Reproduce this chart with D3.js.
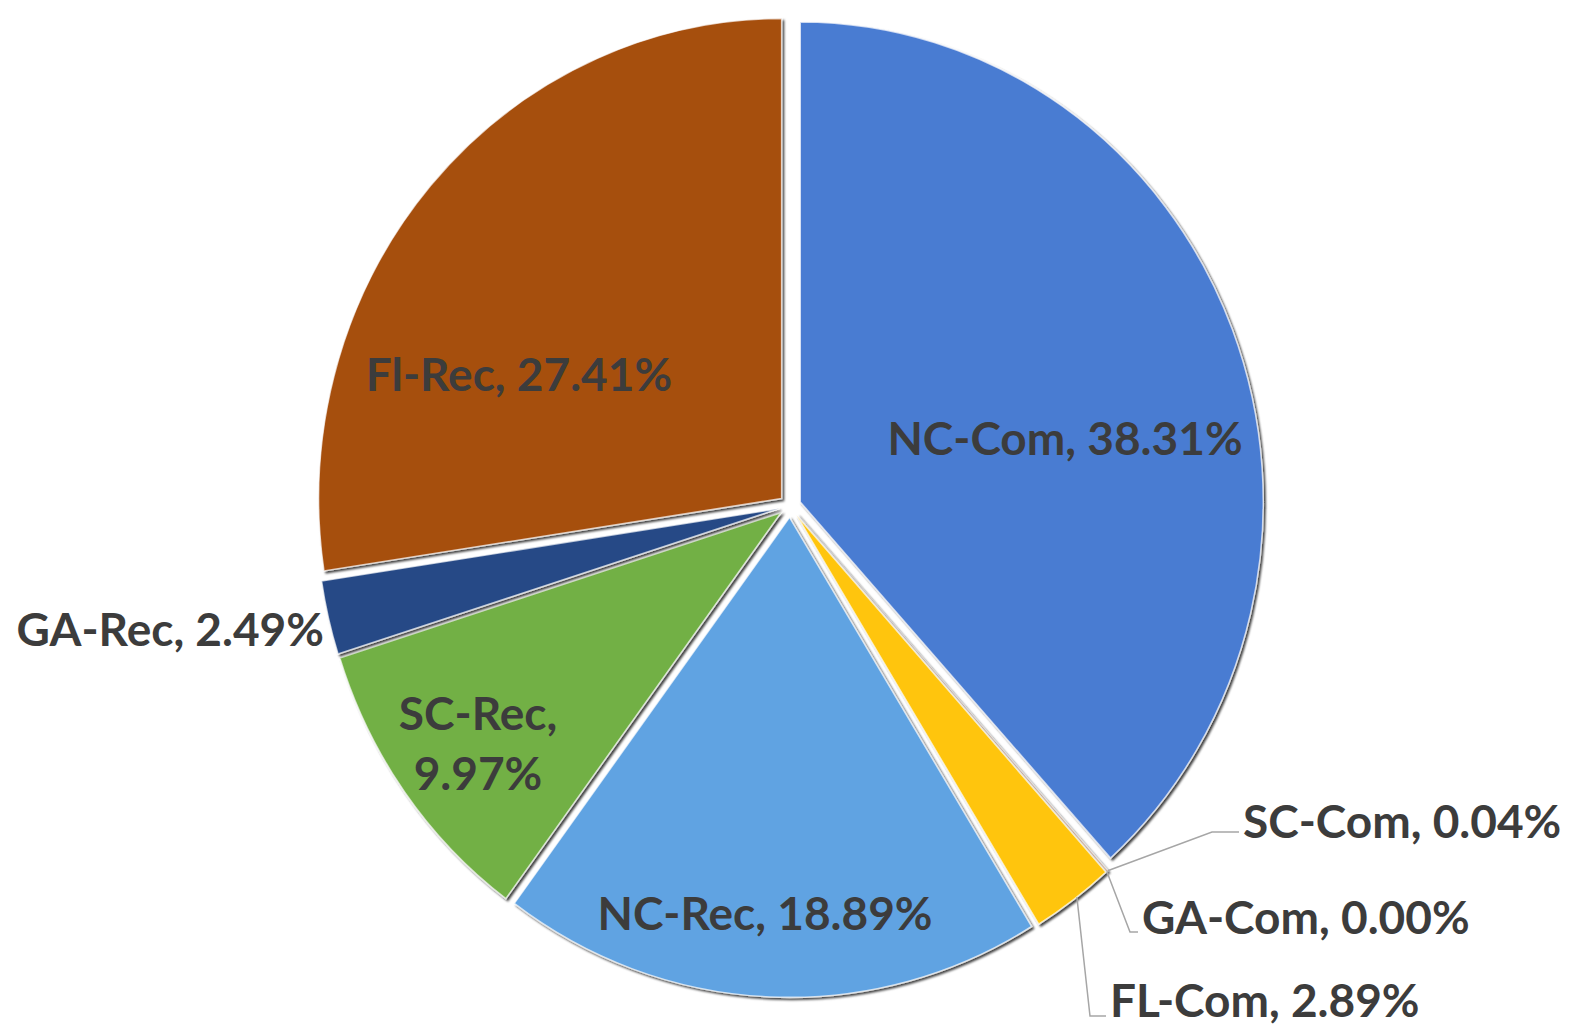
<!DOCTYPE html>
<html>
<head>
<meta charset="utf-8">
<script src="https://cdn.jsdelivr.net/npm/d3@7"></script>
<style>
  html, body { margin: 0; padding: 0; background: #fff; }
  #chart { width: 1571px; height: 1026px; }
  text { font-family: Lato, "Open Sans", sans-serif; font-weight: 700; fill: #3c3c3c; }
</style>
</head>
<body>
<div id="chart"></div>
<script>
// slice names, clockwise from 12 o'clock
var categories = ["NC-Com", "SC-Com", "GA-Com", "FL-Com", "NC-Rec", "SC-Rec", "GA-Rec", "Fl-Rec"];
// share of each slice, in percent
var shares = [38.31, 0.04, 0.00, 2.89, 18.89, 9.97, 2.49, 27.41];
// slice colours (Excel default palette)
var colors = ["#4a7bd2", "#ed7d31", "#a5a5a5", "#ffc508", "#60a3e2", "#72b045", "#274a86", "#a64f10"];

// label placement, relative to the pie centre
var labelLayout = {
  "NC-Com": {x: 275, y: -69, anchor: "middle"},
  "Fl-Rec": {x: -271, y: -133, anchor: "middle"},
  "GA-Rec": {x: -466, y: 122, anchor: "end"},
  "SC-Rec": {x: -312, y: 236, anchor: "middle", wrap: true},
  "NC-Rec": {x: -25, y: 406, anchor: "middle"},
  "SC-Com": {x: 453, y: 314, anchor: "start", elbow: [422, 326], attach: 0},
  "GA-Com": {x: 352, y: 410, anchor: "start", elbow: [340, 426], attach: 0},
  "FL-Com": {x: 320, y: 493, anchor: "start", elbow: [300, 510], attach: 0.45}
};

var W = 1571, H = 1026;
var cx = 790, cy = 506, rx = 463, ry = 480, explode = 11;
var k = ry / rx;

var svg = d3.select("#chart").append("svg")
  .attr("width", W)
  .attr("height", H);

var defs = svg.append("defs");
defs.append("filter")
    .attr("id", "shadow")
    .attr("x", "-10%").attr("y", "-10%")
    .attr("width", "120%").attr("height", "120%")
  .append("feDropShadow")
    .attr("dx", 2).attr("dy", 2)
    .attr("stdDeviation", 1.2)
    .attr("flood-color", "#000")
    .attr("flood-opacity", 0.75);

var pie = d3.pie().sort(null).value(function(d) { return d; });
var arcs = pie(shares);
var arc = d3.arc().innerRadius(0).outerRadius(rx);

function mid(d) { return (d.startAngle + d.endAngle) / 2; }
function offset(d) {
  var a = mid(d);
  return [explode * Math.sin(a), -explode * Math.cos(a)];
}

// the pie is a little taller than wide, so draw it in a stretched group
var g = svg.append("g")
  .attr("transform", "translate(" + cx + "," + cy + ") scale(1," + k + ")");

g.selectAll("path.slice")
  .data(arcs.filter(function(d) { return d.value > 0; }))
  .enter().append("path")
    .attr("class", "slice")
    .attr("transform", function(d) { var o = offset(d); return "translate(" + o[0] + "," + o[1] + ")"; })
    .attr("d", arc)
    .attr("fill", function(d) { return colors[d.index]; })
    .attr("stroke", "#fff")
    .attr("stroke-width", 1.5)
    .attr("stroke-opacity", 0.7)
    .attr("filter", "url(#shadow)");

// point on the outer rim of a slice, in page coordinates
function rimPoint(d, t) {
  var a = d.startAngle + (d.endAngle - d.startAngle) * t;
  var o = offset(d);
  return [cx + o[0] + rx * Math.sin(a), cy + (o[1] - rx * Math.cos(a)) * k];
}

var labels = svg.append("g");

arcs.forEach(function(d, i) {
  var name = categories[i];
  var L = labelLayout[name];
  var txt = name + ", " + d.value.toFixed(2) + "%";
  var t = labels.append("text")
    .attr("x", cx + L.x)
    .attr("y", cy + L.y)
    .attr("text-anchor", L.anchor)
    .attr("dominant-baseline", "central")
    .style("font-size", "46px");
  if (L.wrap) {
    t.append("tspan").attr("x", cx + L.x).attr("dy", "-0.65em").text(name + ",");
    t.append("tspan").attr("x", cx + L.x).attr("dy", "1.3em").text(d.value.toFixed(2) + "%");
  } else {
    t.text(txt);
  }
  if (L.elbow) {
    var p0 = rimPoint(d, L.attach);
    var pts = [p0, [cx + L.elbow[0], cy + L.elbow[1]], [cx + L.x - 4, cy + L.elbow[1]]];
    labels.append("path")
      .attr("d", d3.line()(pts))
      .attr("fill", "none")
      .attr("stroke", "#a6a6a6")
      .attr("stroke-width", 1.5);
  }
});
</script>
</body>
</html>
